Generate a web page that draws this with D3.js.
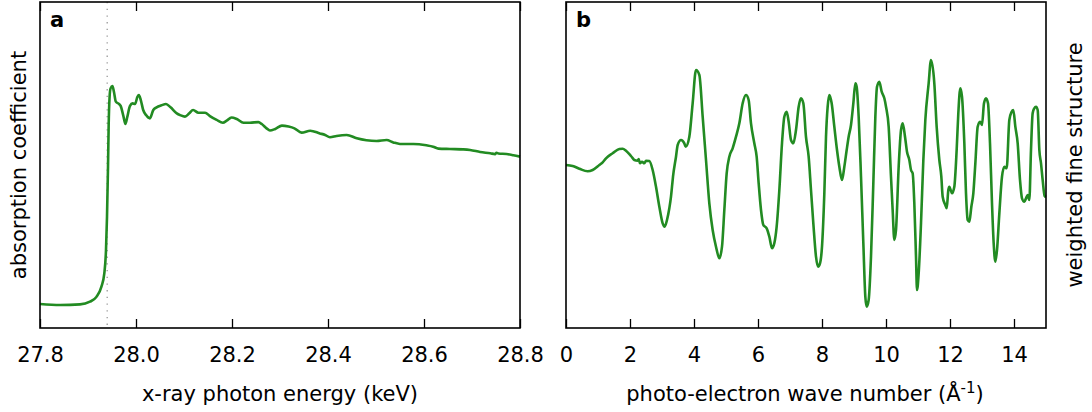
<!DOCTYPE html>
<html>
<head>
<meta charset="utf-8">
<script src="https://cdn.jsdelivr.net/npm/d3@7"></script>
<style>
  html, body { margin: 0; padding: 0; background: #fff; }
  svg { display: block; font-family: "DejaVu Sans", sans-serif; }
</style>
</head>
<body>
<svg id="chart" width="1092" height="412"></svg>
<script>
// Panel a: K-edge absorption spectrum (energy in keV, normalised absorption)
const energy = [27.8, 27.8417, 27.8833, 27.904, 27.918, 27.928, 27.934, 27.9375, 27.9396, 27.9417,
  27.943, 27.945, 27.947, 27.951, 27.954, 27.958, 27.963, 27.968, 27.974, 27.978,
  27.982, 27.9875, 27.993, 27.998, 28.003, 28.006, 28.010, 28.015, 28.021, 28.029,
  28.036, 28.043, 28.053, 28.0625, 28.072, 28.085, 28.092, 28.102, 28.111, 28.119,
  28.130, 28.144, 28.154, 28.168, 28.181, 28.189, 28.199, 28.21, 28.224, 28.2375,
  28.255, 28.262, 28.272, 28.279, 28.290, 28.304, 28.318, 28.330, 28.345, 28.363,
  28.383, 28.394, 28.404, 28.418, 28.439, 28.460, 28.480, 28.501, 28.522, 28.536,
  28.550, 28.578, 28.605, 28.619, 28.630, 28.654, 28.682, 28.696, 28.717, 28.738,
  28.748, 28.751, 28.755, 28.772, 28.786, 28.8];
const absorption = [0.005, 0.0, 0.003, 0.017, 0.043, 0.094, 0.162, 0.282, 0.453, 0.709,
  0.914, 1.068, 1.111, 1.123, 1.094, 1.043, 1.034, 1.021, 0.966, 0.928,
  0.966, 1.021, 1.034, 1.031, 1.068, 1.077, 1.051, 1.0, 0.974, 0.957,
  1.0, 1.014, 1.024, 1.031, 1.014, 0.983, 0.974, 0.966, 0.983, 1.0,
  0.986, 0.986, 0.969, 0.949, 0.935, 0.945, 0.962, 0.954, 0.935, 0.935,
  0.938, 0.928, 0.906, 0.895, 0.903, 0.920, 0.915, 0.906, 0.884, 0.894,
  0.880, 0.872, 0.860, 0.867, 0.872, 0.855, 0.845, 0.841, 0.846, 0.834,
  0.826, 0.826, 0.819, 0.812, 0.802, 0.800, 0.798, 0.795, 0.785, 0.778,
  0.774, 0.781, 0.777, 0.774, 0.768, 0.761];
const edgeEnergy = 27.94;
const energyTicks = [27.8, 28.0, 28.2, 28.4, 28.6, 28.8];

// Panel b: k-weighted fine structure vs photo-electron wave number (1/Å)
const waveNumber = [0, 0.208, 0.417, 0.677, 0.833, 1.042, 1.146, 1.25, 1.458, 1.667,
  1.771, 1.875, 2.031, 2.135, 2.24, 2.271, 2.313, 2.375, 2.448, 2.5,
  2.604, 2.708, 2.8125, 2.917, 3.021, 3.083, 3.156, 3.229, 3.281, 3.3125,
  3.344, 3.4375, 3.49, 3.594, 3.698, 3.74, 3.854, 3.958, 4.0625, 4.167,
  4.271, 4.375, 4.479, 4.583, 4.6875, 4.792, 4.875, 4.948, 5.021, 5.104,
  5.208, 5.3125, 5.417, 5.521, 5.625, 5.708, 5.781, 5.885, 5.958, 6.021,
  6.094, 6.167, 6.271, 6.354, 6.4375, 6.51, 6.583, 6.667, 6.75, 6.823,
  6.896, 6.958, 7.031, 7.104, 7.1875, 7.271, 7.344, 7.417, 7.5, 7.583,
  7.656, 7.729, 7.8125, 7.875, 7.9375, 8.0, 8.073, 8.125, 8.177, 8.229,
  8.302, 8.385, 8.469, 8.542, 8.625, 8.698, 8.771, 8.833, 8.906, 8.979,
  9.042, 9.083, 9.146, 9.219, 9.292, 9.354, 9.396, 9.458, 9.531, 9.604,
  9.667, 9.719, 9.792, 9.865, 9.948, 10.0, 10.083, 10.156, 10.208, 10.26,
  10.3125, 10.396, 10.469, 10.521, 10.594, 10.656, 10.729, 10.781, 10.833, 10.885,
  10.9375, 10.969, 11.021, 11.094, 11.167, 11.229, 11.333, 11.406, 11.51, 11.583,
  11.667, 11.729, 11.771, 11.854, 11.896, 11.948, 11.979, 12.0625, 12.135, 12.208,
  12.26, 12.323, 12.375, 12.448, 12.5, 12.552, 12.604, 12.667, 12.729, 12.792,
  12.865, 12.9375, 13.0, 13.0625, 13.125, 13.1875, 13.25, 13.3125, 13.365, 13.417,
  13.469, 13.542, 13.625, 13.698, 13.771, 13.854, 13.927, 13.979, 14.042, 14.115,
  14.1875, 14.25, 14.323, 14.375, 14.427, 14.479, 14.531, 14.583, 14.635, 14.6875,
  14.74, 14.792, 14.844, 14.896, 14.958, 15.0];
const fineStructure = [0.0, -0.01, -0.037, -0.063, -0.05, 0.0, 0.027, 0.067, 0.117, 0.16,
  0.163, 0.143, 0.09, 0.05, 0.043, 0.06, 0.017, 0.033, 0.017, 0.043,
  0.04, -0.05, -0.217, -0.417, -0.583, -0.617, -0.55, -0.433, -0.317, -0.217,
  -0.117, 0.083, 0.2, 0.25, 0.217, 0.183, 0.283, 0.617, 0.95, 0.9,
  0.483, 0.05, -0.383, -0.65, -0.817, -0.933, -0.817, -0.45, -0.083, 0.083,
  0.167, 0.283, 0.417, 0.617, 0.7, 0.65, 0.417, 0.217, 0.083, -0.183,
  -0.45, -0.6, -0.633, -0.717, -0.833, -0.783, -0.617, -0.25, 0.217, 0.483,
  0.533, 0.433, 0.25, 0.217, 0.35, 0.583, 0.667, 0.617, 0.28, 0.083,
  -0.25, -0.583, -0.917, -1.017, -0.983, -0.817, -0.283, 0.283, 0.583, 0.7,
  0.617, 0.383, 0.15, -0.017, -0.15, -0.017, 0.15, 0.283, 0.4, 0.617,
  0.817, 0.783, 0.483, -0.117, -0.783, -1.317, -1.417, -1.35, -0.917, -0.183,
  0.483, 0.783, 0.833, 0.733, 0.667, 0.583, 0.383, -0.117, -0.45, -0.75,
  -0.65, -0.017, 0.35, 0.417, 0.283, 0.133, 0.05, -0.05, -0.083, -0.383,
  -0.917, -1.25, -1.083, -0.583, 0.05, 0.45, 0.817, 1.05, 0.817, 0.383,
  0.05, -0.117, -0.317, -0.4, -0.433, -0.25, -0.217, -0.283, -0.217, 0.15,
  0.517, 0.767, 0.683, 0.217, -0.283, -0.55, -0.567, -0.417, -0.283, 0.017,
  0.383, 0.433, 0.4, 0.617, 0.667, 0.617, 0.217, -0.383, -0.783, -0.967,
  -0.85, -0.483, -0.117, -0.017, -0.033, 0.45, 0.533, 0.55, 0.383, 0.217,
  -0.15, -0.333, -0.367, -0.333, -0.3, -0.35, 0.15, 0.517, 0.567, 0.583,
  0.55, 0.15, 0.017, -0.15, -0.31, -0.32];
const kTicks = [0, 2, 4, 6, 8, 10, 12, 14];

const lineColor = "#228b22";
const svg = d3.select("#chart");
const plotTop = 2, plotBottom = 328;

function panel(opts) {
  const g = svg.append("g");
  const x = d3.scaleLinear().domain(opts.xDomain).range([opts.left, opts.right]);
  const y = d3.scaleLinear().domain(opts.yDomain).range([plotBottom, plotTop]);

  // dotted marker at the absorption edge
  if (opts.marker !== undefined) {
    g.append("line")
      .attr("x1", x(opts.marker)).attr("x2", x(opts.marker))
      .attr("y1", plotTop).attr("y2", plotBottom)
      .attr("stroke", "#999").attr("stroke-width", 1.3)
      .attr("stroke-dasharray", "1.3,5.4");
  }

  const line = d3.line()
    .x((d, i) => x(opts.xs[i]))
    .y(d => y(d))
    .curve(d3.curveMonotoneX);
  g.append("path")
    .datum(opts.ys)
    .attr("d", line)
    .attr("fill", "none")
    .attr("stroke", lineColor)
    .attr("stroke-width", 2.6)
    .attr("stroke-linejoin", "round");

  // inward ticks, labelled along the bottom
  const axB = d3.axisBottom(x).tickValues(opts.ticks).tickSize(-9)
    .tickPadding(19).tickFormat(opts.fmt);
  const gb = g.append("g").attr("transform", `translate(0,${plotBottom})`).call(axB);
  const axT = d3.axisTop(x).tickValues(opts.ticks).tickSize(-9).tickFormat("");
  const gt = g.append("g").attr("transform", `translate(0,${plotTop})`).call(axT);
  [gb, gt].forEach(a => {
    a.select(".domain").remove();
    a.selectAll(".tick line").attr("stroke", "#000").attr("stroke-width", 1.3);
  });
  gb.selectAll(".tick text")
    .attr("fill", "#000")
    .style("font-size", "21px")
    .style("font-family", "DejaVu Sans");

  g.append("rect")
    .attr("x", opts.left).attr("y", plotTop)
    .attr("width", opts.right - opts.left).attr("height", plotBottom - plotTop)
    .attr("fill", "none").attr("stroke", "#000").attr("stroke-width", 1.6);

  g.append("text")
    .attr("x", opts.left + 10).attr("y", 27)
    .attr("font-size", 21).attr("font-weight", "bold")
    .text(opts.tag);

  return { g, x, y };
}

panel({
  left: 40, right: 520, xDomain: [27.8, 28.8], yDomain: [-0.118, 1.554],
  xs: energy, ys: absorption, ticks: energyTicks, fmt: d3.format(".1f"),
  marker: edgeEnergy, tag: "a"
});
panel({
  left: 566, right: 1046, xDomain: [0, 15], yDomain: [-1.63, 1.63],
  xs: waveNumber, ys: fineStructure, ticks: kTicks, fmt: d3.format("d"),
  tag: "b"
});

// axis titles
svg.append("text")
  .attr("x", 280).attr("y", 401).attr("text-anchor", "middle")
  .attr("font-size", 21).text("x-ray photon energy (keV)");

const kLabel = svg.append("text")
  .attr("x", 805).attr("y", 401).attr("text-anchor", "middle")
  .attr("font-size", 21);
kLabel.append("tspan").text("photo-electron wave number (Å");
kLabel.append("tspan").attr("font-size", 15).attr("dy", -8).text("-1");
kLabel.append("tspan").attr("dy", 8).text(")");

svg.append("text")
  .attr("transform", "translate(26,165) rotate(-90)")
  .attr("text-anchor", "middle").attr("font-size", 21)
  .text("absorption coefficient");

svg.append("text")
  .attr("transform", "translate(1082,165) rotate(-90)")
  .attr("text-anchor", "middle").attr("font-size", 21)
  .text("weighted fine structure");
</script>
</body>
</html>
